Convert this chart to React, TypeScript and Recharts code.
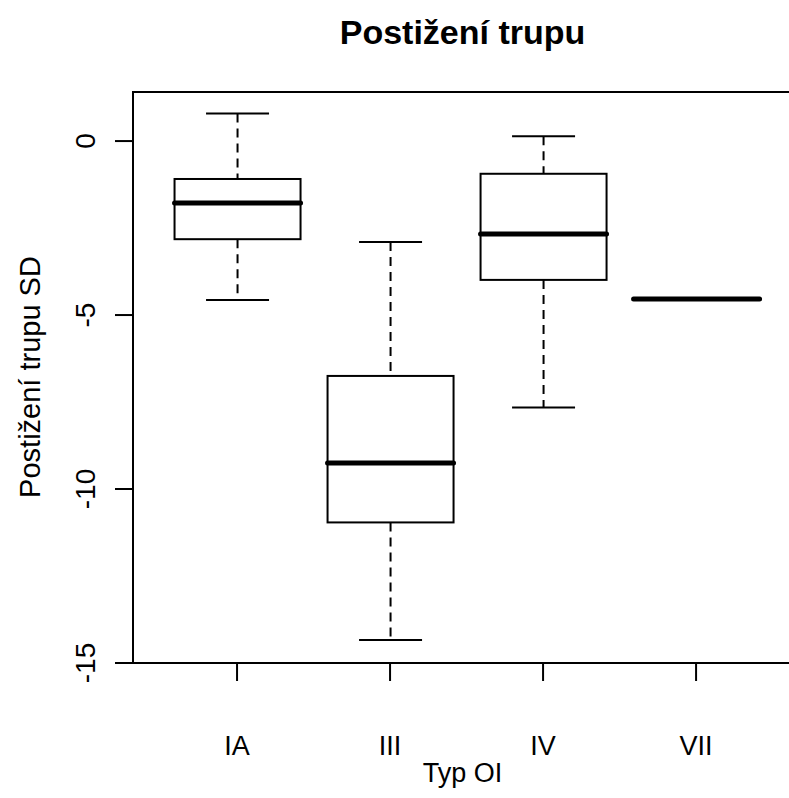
import { ComposedChart, Bar, XAxis, YAxis, ReferenceArea } from "recharts";

const categories = ["IA", "III", "IV", "VII"];
const lower = [-4.57, -14.34, -7.66, -4.54];
const q1 = [-2.82, -10.96, -3.99, -4.54];
const median = [-1.78, -9.25, -2.67, -4.54];
const q3 = [-1.09, -6.75, -0.94, -4.54];
const upper = [0.79, -2.9, 0.14, -4.54];
const yTicks = [0, -5, -10, -15];

const FONT = "'Liberation Sans', Arial, Helvetica, sans-serif";
const X_DOMAIN = [0.32, 4.64];
const Y_DOMAIN = [-15, 1.41];

const data = categories.map((name, i) => ({
  name,
  pos: i + 1,
  lower: lower[i],
  q1: q1[i],
  median: median[i],
  q3: q3[i],
  upper: upper[i],
  range: [lower[i], upper[i]],
}));

function BoxShape(props: any) {
  const { x, y, width, height, payload } = props;
  const top = Math.min(y, y + height);
  const h = Math.abs(height);
  const span = payload.upper - payload.lower;
  const py = (v: number) => (span === 0 ? top : top + ((payload.upper - v) / span) * h);
  const cx = x + width / 2;
  const capHalf = width / 4;
  const yUp = py(payload.upper);
  const yQ3 = py(payload.q3);
  const yMed = py(payload.median);
  const yQ1 = py(payload.q1);
  const yLo = py(payload.lower);
  return (
    <g>
      {span > 0 && (
        <>
          <line x1={cx} x2={cx} y1={yUp} y2={yQ3} stroke="#000" strokeWidth={2} strokeDasharray="9 6" />
          <line x1={cx} x2={cx} y1={yQ1} y2={yLo} stroke="#000" strokeWidth={2} strokeDasharray="9 6" />
          <line x1={cx - capHalf} x2={cx + capHalf} y1={yUp} y2={yUp} stroke="#000" strokeWidth={2} />
          <line x1={cx - capHalf} x2={cx + capHalf} y1={yLo} y2={yLo} stroke="#000" strokeWidth={2} />
          <rect x={x} y={yQ3} width={width} height={yQ1 - yQ3} fill="#fff" stroke="#000" strokeWidth={2} />
        </>
      )}
      <line x1={x} x2={x + width} y1={yMed} y2={yMed} stroke="#000" strokeWidth={5} strokeLinecap="round" />
    </g>
  );
}

function YTick({ x, y, payload }: any) {
  const tx = x - 18;
  return (
    <text
      x={tx}
      y={y}
      transform={`rotate(-90 ${tx} ${y})`}
      textAnchor="middle"
      fontFamily={FONT}
      fontSize={28}
      fill="#000"
    >
      {payload.value}
    </text>
  );
}

function XTick({ x, y, payload }: any) {
  return (
    <text x={x} y={y + 72} textAnchor="middle" fontFamily={FONT} fontSize={27} fill="#000">
      {categories[payload.value - 1]}
    </text>
  );
}

export default function App() {
  return (
    <div style={{ position: "relative", width: 789, height: 798, overflow: "hidden", background: "#fff" }}>
      <style>{`body{margin:0;overflow:hidden;background:#fff}`}</style>
      <div
        style={{
          position: "absolute",
          left: 0,
          width: 925,
          top: 13,
          textAlign: "center",
          fontFamily: FONT,
          fontWeight: "bold",
          fontSize: 34,
        }}
      >
        Postižení trupu
      </div>
      <div
        style={{
          position: "absolute",
          left: 30,
          top: 377,
          transform: "translate(-50%, -50%) rotate(-90deg)",
          whiteSpace: "nowrap",
          fontFamily: FONT,
          fontSize: 29,
        }}
      >
        Postižení trupu SD
      </div>
      <div
        style={{
          position: "absolute",
          left: 0,
          width: 925,
          top: 758,
          textAlign: "center",
          fontFamily: FONT,
          fontSize: 27,
        }}
      >
        Typ OI
      </div>
      <ComposedChart
        width={800}
        height={798}
        data={data}
        margin={{ top: 92, right: 6, bottom: 0, left: 58 }}
        style={{ position: "absolute", left: 0, top: 0 }}
      >
        <XAxis
          dataKey="pos"
          type="number"
          domain={X_DOMAIN}
          ticks={[1, 2, 3, 4]}
          height={135}
          tickSize={18}
          tick={<XTick />}
          axisLine={{ stroke: "#000", strokeWidth: 2 }}
          tickLine={{ stroke: "#000", strokeWidth: 2 }}
          allowDataOverflow
        />
        <YAxis
          type="number"
          domain={Y_DOMAIN}
          ticks={yTicks}
          width={75}
          tickSize={18}
          tick={<YTick />}
          axisLine={{ stroke: "#000", strokeWidth: 2 }}
          tickLine={{ stroke: "#000", strokeWidth: 2 }}
          allowDataOverflow
        />
        <ReferenceArea
          x1={X_DOMAIN[0]}
          x2={X_DOMAIN[1]}
          y1={Y_DOMAIN[0]}
          y2={Y_DOMAIN[1]}
          fill="none"
          stroke="#000"
          strokeWidth={2}
          ifOverflow="visible"
        />
        <Bar dataKey="range" barSize={126} shape={<BoxShape />} isAnimationActive={false} />
      </ComposedChart>
    </div>
  );
}
